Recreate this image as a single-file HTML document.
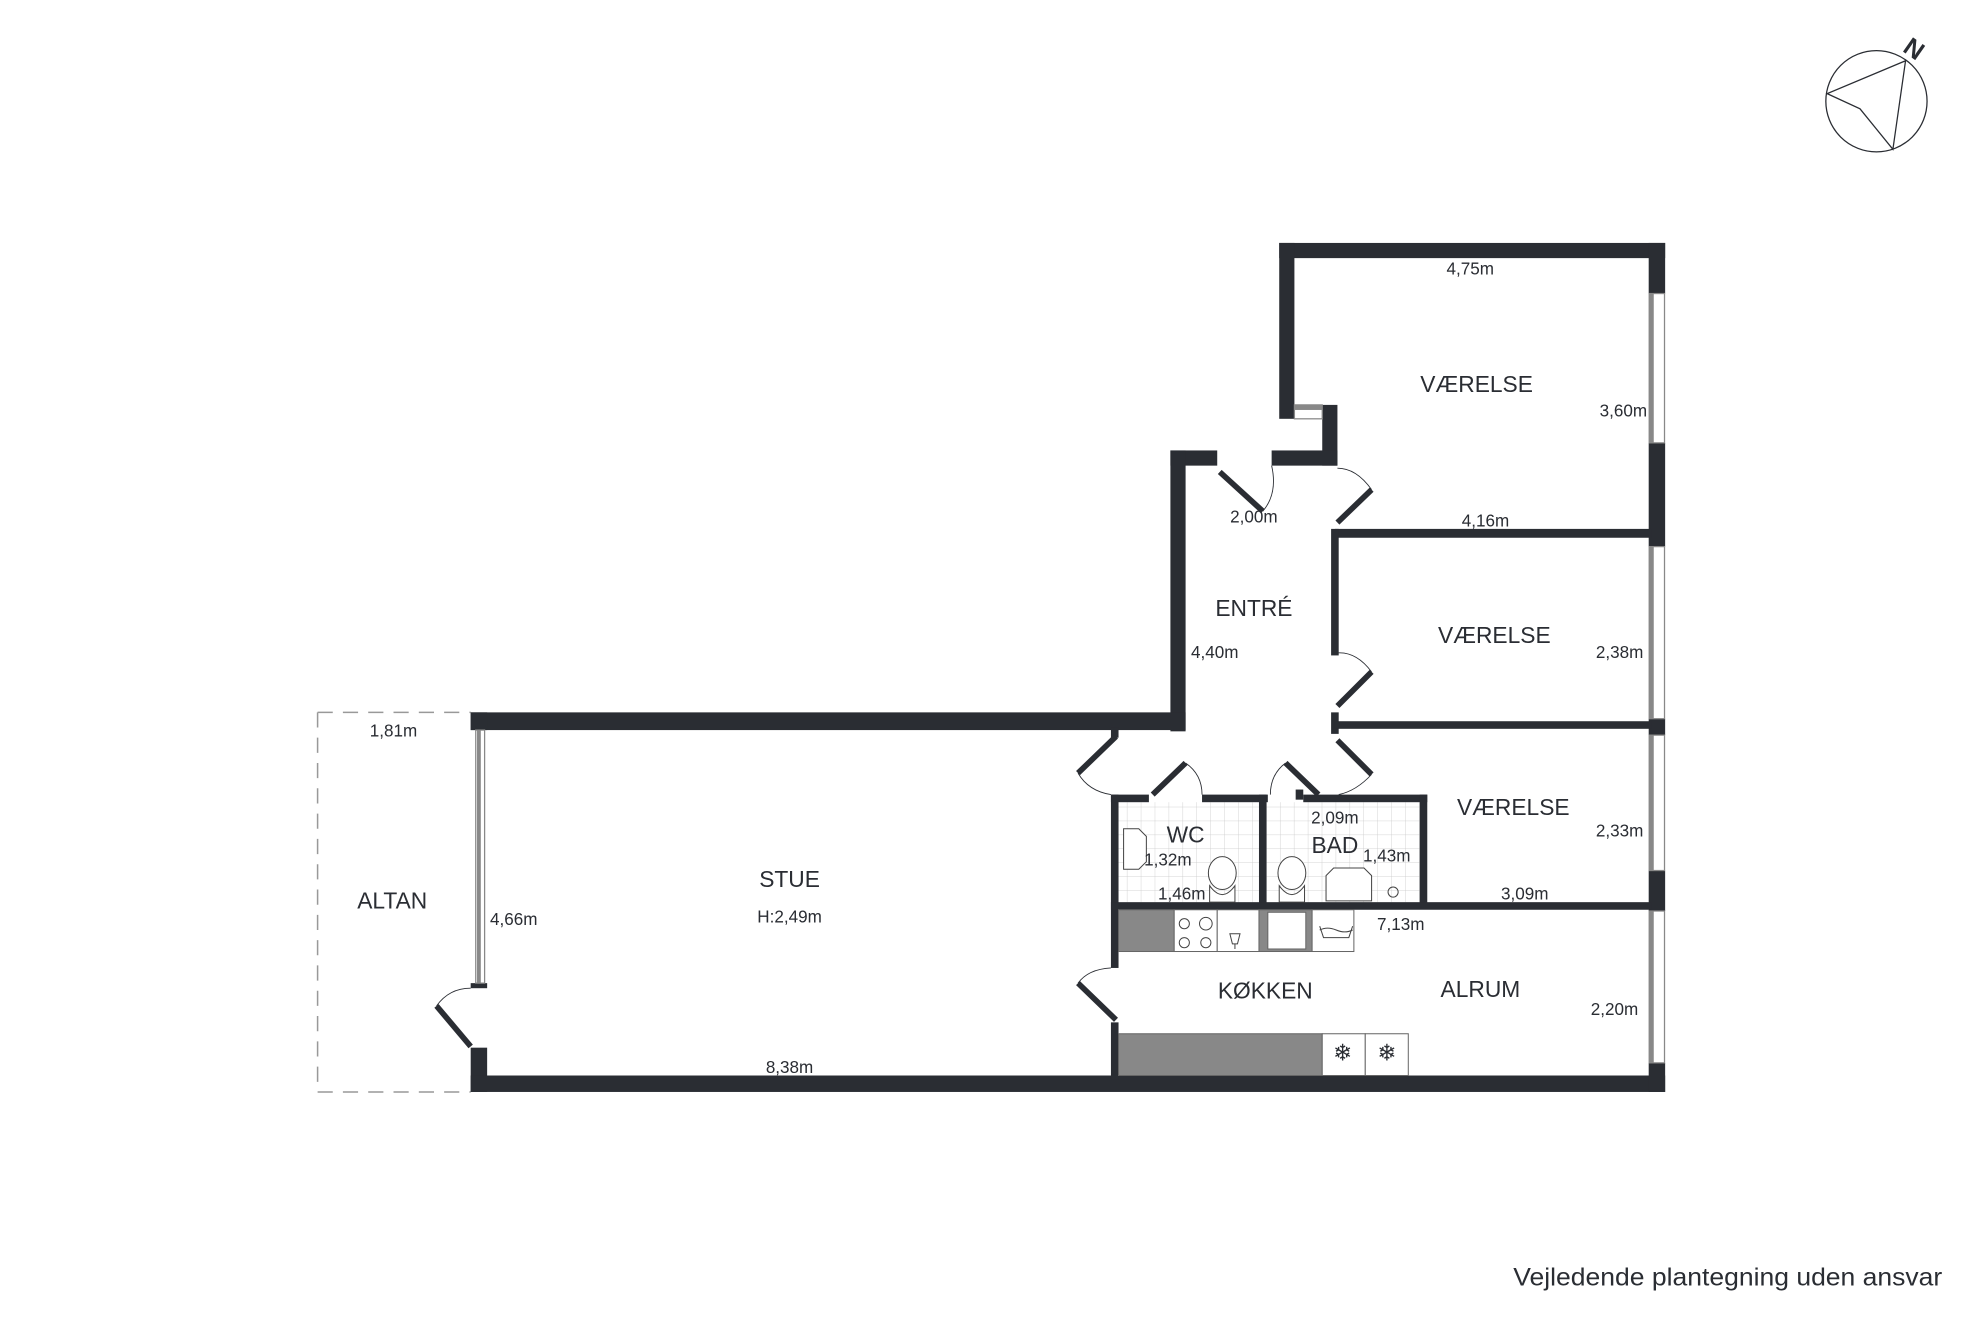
<!DOCTYPE html>
<html><head><meta charset="utf-8"><style>
html,body{margin:0;padding:0;background:#fff;}
svg{display:block;}
text{font-family:"Liberation Sans",sans-serif;fill:#2a2d33;}
</style></head><body>
<svg width="1984" height="1323" viewBox="0 0 1568 1045.6" preserveAspectRatio="none" xmlns="http://www.w3.org/2000/svg">
<defs>
<pattern id="tile" width="11" height="11" patternUnits="userSpaceOnUse"><rect width="11" height="11" fill="#fff"/><path d="M11 0V11M0 11H11" stroke="#c8c8c8" stroke-width="0.6"/></pattern>
</defs>
<circle cx="1483" cy="80" r="40" fill="none" stroke="#2a2d33" stroke-width="1"/>
<path d="M1506 48 L1444 74 L1470 86 L1496 118 Z" fill="none" stroke="#2a2d33" stroke-width="1"/>
<text x="1506" y="46" font-size="20" font-weight="bold" transform="rotate(35 1514 38)">N</text>

<rect x="884" y="634" width="111" height="79" fill="url(#tile)"/>
<rect x="1001" y="634" width="121" height="79" fill="url(#tile)"/>

<path d="M251 563 H372 M251 563 V863 M251 863 H372" fill="none" stroke="#999" stroke-width="1.2" stroke-dasharray="12,8"/>

<g fill="#2a2d33">
<rect x="1011" y="192" width="305" height="12"/>
<rect x="1011" y="192" width="12" height="139"/>
<rect x="1045" y="320" width="12" height="48"/>
<rect x="1005" y="356" width="52" height="12"/>
<rect x="925" y="356" width="37" height="12"/>
<rect x="925" y="356" width="12" height="222"/>
<rect x="372" y="563" width="565" height="14"/>
<rect x="372" y="563" width="13" height="14"/>
<rect x="372" y="828" width="13" height="35"/>
<rect x="372" y="777" width="13" height="4"/>
<rect x="372" y="850" width="944" height="13"/>
<rect x="1303" y="192" width="13" height="40"/>
<rect x="1303" y="350" width="13" height="82"/>
<rect x="1303" y="568" width="13" height="13"/>
<rect x="1303" y="688" width="13" height="32"/>
<rect x="1303" y="840" width="13" height="23"/>
<rect x="1055" y="418" width="250" height="7"/>
<rect x="1052" y="418" width="6" height="100"/>
<rect x="1052" y="563" width="6" height="17"/>
<rect x="1055" y="570" width="250" height="6"/>
<rect x="878" y="575" width="6" height="8"/>
<rect x="878" y="628" width="6" height="137"/>
<rect x="878" y="808" width="6" height="45"/>
<rect x="878" y="628" width="30" height="6"/>
<rect x="950" y="628" width="52" height="6"/>
<rect x="1030" y="628" width="98" height="6"/>
<rect x="1024" y="624" width="6" height="8"/>
<rect x="995" y="628" width="6" height="88"/>
<rect x="1122" y="628" width="6" height="88"/>
<rect x="878" y="713" width="427" height="6"/>
</g>
<g fill="#fff" stroke="#888" stroke-width="1">
<rect x="1303.5" y="232" width="12" height="118"/>
<rect x="1303.5" y="432" width="12" height="136"/>
<rect x="1303.5" y="581" width="12" height="107"/>
<rect x="1303.5" y="720" width="12" height="120"/>
<rect x="376" y="577" width="7" height="200"/>
<rect x="1023" y="320" width="22" height="11"/>
</g>
<g fill="#888"><rect x="1303" y="232" width="4" height="118"/><rect x="1303" y="432" width="4" height="136"/><rect x="1303" y="581" width="4" height="107"/><rect x="1303" y="720" width="4" height="120"/><rect x="377" y="577" width="3" height="200"/><rect x="1023" y="320" width="22" height="4"/></g>

<g stroke="#2a2d33" stroke-width="4.5" fill="none">
<path d="M964 373 L998 404"/>
<path d="M1057 413 L1084 387"/>
<path d="M1057 558 L1084 531"/>
<path d="M1057 585 L1084 612"/>
<path d="M882 582 L852 611"/>
<path d="M882 806 L852 777"/>
<path d="M372 827 L345 795"/>
<path d="M911 628 L937 603"/>
<path d="M1042 628 L1016 603"/>
</g>
<g stroke="#2a2d33" stroke-width="0.7" fill="none">
<path d="M998 404 Q1010 390 1005 368"/>
<path d="M1084 387 Q1072 370 1057 370"/>
<path d="M1084 531 Q1072 515 1057 516"/>
<path d="M1084 612 Q1072 625 1058 628"/>
<path d="M852 611 Q860 625 878 628"/>
<path d="M852 777 Q860 766 878 765"/>
<path d="M345 795 Q355 781 372 781"/>
<path d="M937 603 Q950 612 950 628"/>
<path d="M1016 603 Q1004 612 1004 628"/>
</g>

<g stroke="#666" stroke-width="0.8">
<rect x="884" y="719" width="44" height="33" fill="#888"/>
<rect x="928" y="719" width="34" height="33" fill="#fff"/>
<rect x="962" y="719" width="33" height="33" fill="#fff"/>
<rect x="995" y="719" width="42" height="33" fill="#888"/>
<rect x="1002" y="721" width="30" height="29" fill="#fff"/>
<rect x="1037" y="719" width="33" height="33" fill="#fff"/>
<rect x="884" y="817" width="161" height="33" fill="#888"/>
<rect x="1045" y="817" width="34" height="33" fill="#fff"/>
<rect x="1079" y="817" width="34" height="33" fill="#fff"/>
</g>
<g stroke="#444" stroke-width="0.8" fill="none">
<circle cx="936" cy="730" r="4"/><circle cx="953" cy="730" r="5"/><circle cx="936" cy="745" r="4"/><circle cx="953" cy="745" r="4"/>
<path d="M972 738 h8 l-2 8 h-4 z M976 746 v4"/>
<path d="M1043 732 l3 9 h20 l3 -9 M1043 735 q6 -3 13 0 t13 0"/>
<text x="1061" y="838" font-size="18" fill="#444" stroke="none" text-anchor="middle">❄</text>
<text x="1096" y="838" font-size="18" fill="#444" stroke="none" text-anchor="middle">❄</text>
<ellipse cx="966" cy="690" rx="11" ry="13" fill="#fff"/><path d="M956 700 q10 14 20 0 v13 h-20z" fill="#fff"/>
<ellipse cx="1021" cy="690" rx="11" ry="13" fill="#fff"/><path d="M1011 700 q10 14 20 0 v13 h-20z" fill="#fff"/>
<path d="M888 655 h12 l6 6 v20 l-6 6 h-12 z" fill="#fff"/>
<path d="M1048 692 l6 -6 h24 l6 6 v20 h-36 z" fill="#fff"/>
<circle cx="1101" cy="705" r="4"/>
</g>

<g font-size="18" text-anchor="middle">
<text x="1167" y="310">VÆRELSE</text>
<text x="1181" y="508">VÆRELSE</text>
<text x="1196" y="644">VÆRELSE</text>
<text x="991" y="487">ENTRÉ</text>
<text x="624" y="701">STUE</text>
<text x="310" y="718">ALTAN</text>
<text x="937" y="666">WC</text>
<text x="1055" y="674">BAD</text>
<text x="1000" y="789">KØKKEN</text>
<text x="1170" y="788">ALRUM</text>
</g>
<g font-size="13.5" text-anchor="middle">
<text x="1162" y="217">4,75m</text>
<text x="1283" y="329">3,60m</text>
<text x="1174" y="416">4,16m</text>
<text x="991" y="413">2,00m</text>
<text x="960" y="520">4,40m</text>
<text x="1280" y="520">2,38m</text>
<text x="1280" y="661">2,33m</text>
<text x="311" y="582">1,81m</text>
<text x="406" y="731">4,66m</text>
<text x="624" y="729">H:2,49m</text>
<text x="624" y="848">8,38m</text>
<text x="923" y="684">1,32m</text>
<text x="934" y="711">1,46m</text>
<text x="1055" y="651">2,09m</text>
<text x="1096" y="681">1,43m</text>
<text x="1205" y="711">3,09m</text>
<text x="1107" y="735">7,13m</text>
<text x="1276" y="802">2,20m</text>
</g>
<text x="1196" y="1016" font-size="20" textLength="339" lengthAdjust="spacingAndGlyphs">Vejledende plantegning uden ansvar</text>
</svg>
</body></html>
